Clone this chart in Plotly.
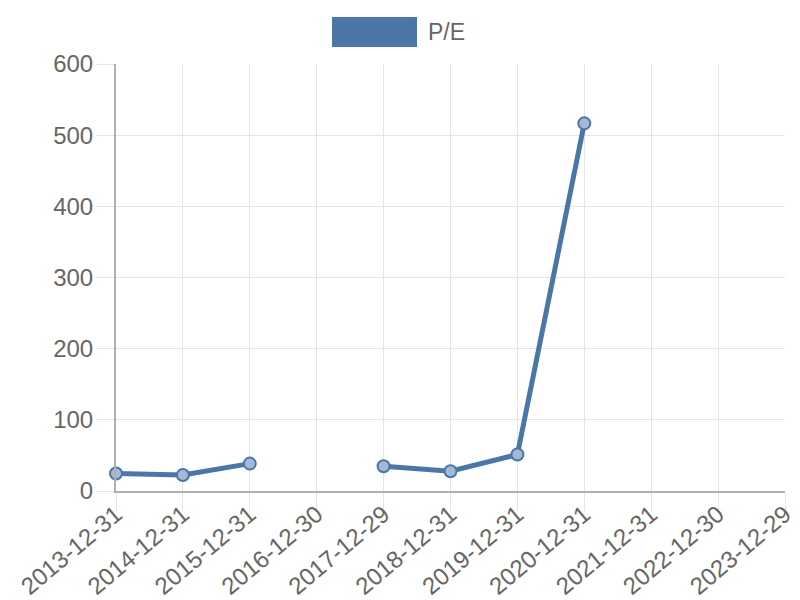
import plotly.graph_objects as go

categories = ["2013-12-31", "2014-12-31", "2015-12-31", "2016-12-30", "2017-12-29",
              "2018-12-31", "2019-12-31", "2020-12-31", "2021-12-31", "2022-12-30", "2023-12-29"]
pe_values = [24.5, 22.5, 38.5, None, 34.7, 27.7, 51.2, 516.6, None, None, None]
y_ticks = [0, 100, 200, 300, 400, 500, 600]
series_name = "P/E"

blue = "#4a76a8"
grid = "#e5e5e5"
axis_col = "#b0b0b0"
font_col = "#666666"

fig = go.Figure()
fig.add_trace(go.Scatter(
    x=categories, y=pe_values, mode="lines+markers", name=series_name,
    connectgaps=False, cliponaxis=False,
    line=dict(color=blue, width=5),
    marker=dict(size=12, color="#a3b9d5", line=dict(color=blue, width=2)),
    showlegend=False,
))

# legend drawn as box + text (plot area: 669 x 427 px)
fig.add_shape(type="rect", xref="paper", yref="paper",
              x0=(332 - 116) / 669, x1=(417 - 116) / 669,
              y0=(491 - 47) / 427, y1=(491 - 17) / 427,
              fillcolor=blue, line=dict(width=0))
fig.add_annotation(xref="paper", yref="paper", x=(426 - 116) / 669, y=(491 - 32) / 427,
                   text=series_name, showarrow=False, xanchor="left", yanchor="middle",
                   font=dict(size=23, color=font_col))

fig.update_layout(
    width=800, height=600,
    margin=dict(l=116, r=15, t=64, b=109),
    paper_bgcolor="white", plot_bgcolor="white",
    font=dict(family="Liberation Sans, Arial, sans-serif", color=font_col, size=24),
)
fig.update_xaxes(
    type="category", range=[0, 10], categoryorder="array", categoryarray=categories,
    tickangle=-40, showgrid=True, gridcolor=grid, gridwidth=1,
    ticks="outside", ticklen=18, tickcolor=grid, ticklabelstandoff=-20,
    showline=True, linecolor=axis_col, linewidth=2,
    tickfont=dict(size=24, color=font_col), automargin=False,
)
fig.update_yaxes(
    range=[0, 600], tickvals=y_ticks, showgrid=True, gridcolor=grid, gridwidth=1,
    ticks="outside", ticklen=18, tickcolor=grid, ticklabelstandoff=-2,
    showline=True, linecolor=axis_col, linewidth=2, zeroline=False,
    tickfont=dict(size=24, color=font_col), automargin=False,
)

fig.write_html("out.html", config={"displayModeBar": False},
               post_script="document.body.style.margin='0';document.body.style.overflow='hidden';")
